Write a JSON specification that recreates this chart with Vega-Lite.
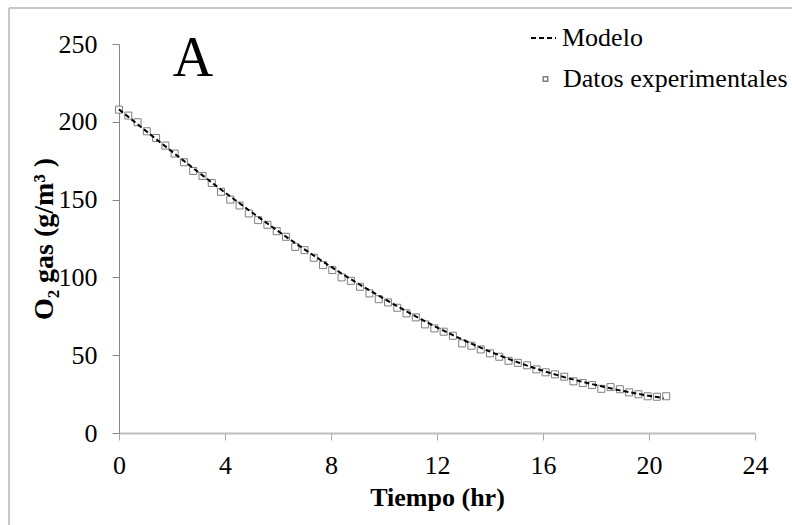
{
  "$schema": "https://vega.github.io/schema/vega-lite/v6.json",
  "width": 636,
  "height": 389,
  "autosize": "none",
  "padding": {"left": 119, "top": 44, "right": 37, "bottom": 92},
  "background": "white",
  "datasets": {
    "datos": [
      {"t": 0.00, "v": 207.8}, {"t": 0.35, "v": 204.0}, {"t": 0.70, "v": 199.7}, {"t": 1.05, "v": 193.9},
      {"t": 1.40, "v": 189.6}, {"t": 1.75, "v": 184.7}, {"t": 2.10, "v": 179.6}, {"t": 2.45, "v": 174.0},
      {"t": 2.80, "v": 168.4}, {"t": 3.15, "v": 165.2}, {"t": 3.50, "v": 160.7}, {"t": 3.85, "v": 155.0},
      {"t": 4.20, "v": 150.0}, {"t": 4.55, "v": 146.2}, {"t": 4.90, "v": 141.1}, {"t": 5.25, "v": 136.8},
      {"t": 5.60, "v": 133.8}, {"t": 5.95, "v": 129.7}, {"t": 6.30, "v": 126.1}, {"t": 6.65, "v": 119.6},
      {"t": 7.00, "v": 117.5}, {"t": 7.35, "v": 112.6}, {"t": 7.70, "v": 107.9}, {"t": 8.05, "v": 104.7},
      {"t": 8.40, "v": 100.0}, {"t": 8.75, "v": 97.8}, {"t": 9.10, "v": 94.0}, {"t": 9.45, "v": 89.7},
      {"t": 9.80, "v": 86.0}, {"t": 10.15, "v": 83.9}, {"t": 10.50, "v": 80.5}, {"t": 10.85, "v": 76.9},
      {"t": 11.20, "v": 74.3}, {"t": 11.55, "v": 69.8}, {"t": 11.90, "v": 67.2}, {"t": 12.25, "v": 65.1},
      {"t": 12.60, "v": 62.5}, {"t": 12.95, "v": 57.6}, {"t": 13.30, "v": 56.1}, {"t": 13.65, "v": 53.7},
      {"t": 14.00, "v": 51.2}, {"t": 14.35, "v": 49.0}, {"t": 14.70, "v": 46.4}, {"t": 15.05, "v": 45.1},
      {"t": 15.40, "v": 43.5}, {"t": 15.75, "v": 40.9}, {"t": 16.10, "v": 39.0}, {"t": 16.45, "v": 37.7},
      {"t": 16.80, "v": 36.2}, {"t": 17.15, "v": 33.2}, {"t": 17.50, "v": 32.1}, {"t": 17.85, "v": 30.8},
      {"t": 18.20, "v": 28.4}, {"t": 18.55, "v": 29.5}, {"t": 18.90, "v": 28.1}, {"t": 19.25, "v": 26.1},
      {"t": 19.60, "v": 24.9}, {"t": 19.95, "v": 23.6}, {"t": 20.30, "v": 23.3}, {"t": 20.65, "v": 23.6}
    ],
    "modelo": [
      {"t": 0.0, "v": 208.0}, {"t": 0.7, "v": 198.4}, {"t": 1.4, "v": 188.9}, {"t": 2.1, "v": 179.5},
      {"t": 2.8, "v": 170.2}, {"t": 3.5, "v": 161.0}, {"t": 4.2, "v": 152.0}, {"t": 4.9, "v": 143.2},
      {"t": 5.6, "v": 134.6}, {"t": 6.3, "v": 126.2}, {"t": 7.0, "v": 118.0}, {"t": 7.7, "v": 110.1},
      {"t": 8.4, "v": 102.5}, {"t": 9.1, "v": 95.2}, {"t": 9.8, "v": 88.2}, {"t": 10.5, "v": 81.5},
      {"t": 11.2, "v": 74.9}, {"t": 11.9, "v": 68.7}, {"t": 12.6, "v": 62.9}, {"t": 13.3, "v": 57.4},
      {"t": 14.0, "v": 52.3}, {"t": 14.7, "v": 47.6}, {"t": 15.4, "v": 43.3}, {"t": 16.1, "v": 39.4},
      {"t": 16.8, "v": 35.9}, {"t": 17.5, "v": 32.8}, {"t": 18.2, "v": 30.1}, {"t": 18.9, "v": 27.4},
      {"t": 19.6, "v": 25.1}, {"t": 20.3, "v": 23.1}, {"t": 20.55, "v": 22.3}
    ],
    "marco": [
      {"x1": -4.15, "x2": -4.15, "y1": -70, "y2": 273.1},
      {"x1": -4.15, "x2": 28, "y1": 273.1, "y2": 273.1}
    ],
    "etiqueta": [{"t": 2.79, "v": 229.4, "txt": "A"}]
  },
  "layer": [
    {
      "data": {"name": "marco"},
      "mark": {"type": "rule", "color": "#c6c6c6", "strokeWidth": 2, "clip": false},
      "encoding": {
        "x": {
          "field": "x1", "type": "quantitative",
          "scale": {"domain": [0, 24], "nice": false, "zero": false},
          "axis": {
            "values": [0, 4, 8, 12, 16, 20, 24], "title": "Tiempo (hr)", "grid": false,
            "labelFont": "Liberation Serif", "labelFontSize": 26, "labelColor": "black", "labelFlush": false,
            "labelPadding": 12, "tickSize": 7, "domainColor": "#bdbdbd", "domainWidth": 2, "tickColor": "#a8a8a8", "tickWidth": 1,
            "titleFont": "Liberation Serif", "titleFontSize": 26, "titleFontWeight": "bold", "titleColor": "black",
            "titleX": 318, "titleY": 72, "titleAlign": "center", "titleBaseline": "alphabetic"
          }
        },
        "x2": {"field": "x2"},
        "y": {
          "field": "y1", "type": "quantitative",
          "scale": {"domain": [0, 250], "nice": false, "zero": false},
          "axis": {
            "values": [0, 50, 100, 150, 200, 250], "title": "O₂ gas (g/m³ )", "grid": false,
            "labelFont": "Liberation Serif", "labelFontSize": 26, "labelColor": "black", "labelFlush": false,
            "labelPadding": 15, "tickSize": 7, "domainColor": "#868686", "domainWidth": 1, "tickColor": "#868686", "tickWidth": 1,
            "titleFont": "Liberation Serif", "titleFontSize": 28, "titleFontWeight": "bold", "titleColor": "black",
            "titleX": -67, "titleY": 194.5, "titleAngle": -90, "titleAlign": "center", "titleBaseline": "alphabetic"
          }
        },
        "y2": {"field": "y2"}
      }
    },
    {
      "data": {"name": "datos"},
      "transform": [{"calculate": "'Datos experimentales'", "as": "serie"}],
      "mark": {"type": "point", "fill": "white", "filled": true, "stroke": "#7f7f7f", "strokeWidth": 1, "size": 49, "opacity": 1},
      "encoding": {
        "x": {"field": "t", "type": "quantitative"},
        "y": {"field": "v", "type": "quantitative"},
        "shape": {
          "field": "serie", "type": "nominal",
          "scale": {"domain": ["Datos experimentales"], "range": ["square"]},
          "legend": {
            "title": null, "orient": "none", "legendX": 413.5, "legendY": 22,
            "symbolType": "square", "symbolSize": 20,
            "labelFont": "Liberation Serif", "labelFontSize": 26, "labelColor": "black", "labelLimit": 400,
            "labelOffset": 4.5, "padding": 0,
            "encode": {
              "symbols": {
                "update": {
                  "fill": {"value": "white"},
                  "stroke": {"value": "#7f7f7f"},
                  "strokeWidth": {"value": 1},
                  "opacity": {"value": 1},
                  "size": {"value": 20}
                }
              }
            }
          }
        }
      }
    },
    {
      "data": {"name": "modelo"},
      "transform": [{"calculate": "'Modelo'", "as": "serie"}],
      "mark": {"type": "line", "color": "black", "strokeWidth": 2},
      "encoding": {
        "x": {"field": "t", "type": "quantitative"},
        "y": {"field": "v", "type": "quantitative"},
        "strokeDash": {
          "field": "serie", "type": "nominal",
          "scale": {"domain": ["Modelo"], "range": [[5, 3]]},
          "legend": {
            "title": null, "orient": "none", "legendX": 411, "legendY": -19.5,
            "symbolType": "stroke", "symbolSize": 625, "symbolStrokeColor": "black", "symbolStrokeWidth": 2,
            "labelFont": "Liberation Serif", "labelFontSize": 26, "labelColor": "black", "labelLimit": 400,
            "labelOffset": 5, "padding": 0
          }
        }
      }
    },
    {
      "data": {"name": "etiqueta"},
      "mark": {"type": "text", "font": "Liberation Serif", "fontSize": 56, "align": "center", "baseline": "alphabetic", "color": "black"},
      "encoding": {
        "x": {"field": "t", "type": "quantitative"},
        "y": {"field": "v", "type": "quantitative"},
        "text": {"field": "txt"}
      }
    }
  ],
  "resolve": {"legend": {"shape": "independent", "strokeDash": "independent"}},
  "config": {
    "view": {"stroke": null}
  }
}
